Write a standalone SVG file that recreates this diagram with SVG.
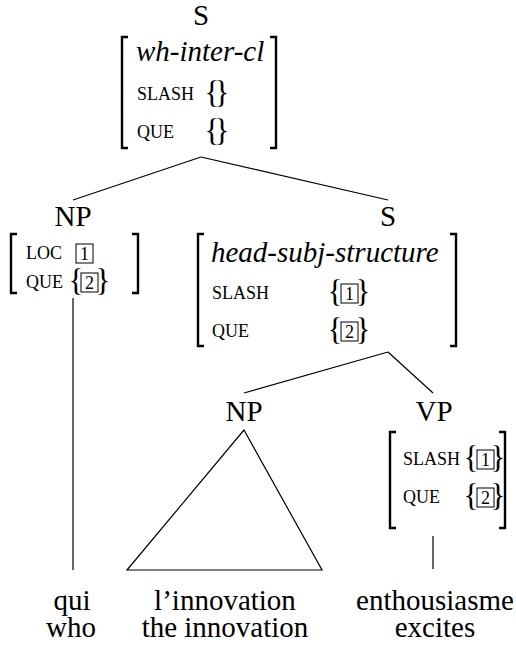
<svg xmlns="http://www.w3.org/2000/svg" width="516" height="647" viewBox="0 0 516 647">
<style>
text{font-family:"Liberation Serif","Times New Roman",serif;fill:#000}
.lab{font-size:29px;text-anchor:middle}
.it{font-size:29px;font-style:italic}
.sc{font-size:18px}
.br{font-size:31px;text-anchor:middle}
.pair{font-size:31px;letter-spacing:-5px}
.num{font-size:18px;text-anchor:middle}
.brk{fill:none;stroke:#000;stroke-width:2.4}
.box{fill:none;stroke:#000;stroke-width:1}
.edge{fill:none;stroke:#000;stroke-width:1.2}
.word{font-size:29px;text-anchor:middle}
</style>
<rect width="516" height="647" fill="#fff"/>
<g id="connectors">
<line class="edge" x1="201" y1="157" x2="73" y2="200"/>
<line class="edge" x1="201" y1="157" x2="388" y2="200"/>
<line class="edge" x1="73" y1="298" x2="73" y2="570"/>
<line class="edge" x1="388" y1="352" x2="244" y2="393"/>
<line class="edge" x1="388" y1="352" x2="433" y2="393"/>
<polygon class="edge" points="244,430 127,570 322,570"/>
<line class="edge" x1="433" y1="536" x2="433" y2="569"/>
</g>
<g id="node-S-top">
<text class="lab" x="201" y="25">S</text>
<path class="brk" d="M128,37 H122 V148 H128"/>
<path class="brk" d="M270,37 H276 V148 H270"/>
<text class="it" x="136" y="61">wh-inter-cl</text>
<text class="sc" x="137" y="100">SLASH</text>
<text class="pair" x="204.6" y="103">{}</text>
<text class="sc" x="137" y="138">QUE</text>
<text class="pair" x="204.6" y="141">{}</text>
</g>
<g id="node-NP-qui">
<text class="lab" x="73" y="226">NP</text>
<path class="brk" d="M17,234 H11 V293 H17"/>
<path class="brk" d="M132,234 H138 V293 H132"/>
<text class="sc" x="26" y="259">LOC</text>
<rect class="box" x="76" y="244" width="17" height="19"/>
<text class="num" x="84.5" y="260">1</text>
<text class="sc" x="26" y="288">QUE</text>
<text class="br" x="76" y="291">{</text>
<rect class="box" x="81" y="273" width="17" height="19"/>
<text class="num" x="89.5" y="289">2</text>
<text class="br" x="103" y="291">}</text>
</g>
<g id="node-S-right">
<text class="lab" x="388" y="226">S</text>
<path class="brk" d="M204,234 H198 V346 H204"/>
<path class="brk" d="M450,234 H456 V346 H450"/>
<text class="it" x="211" y="262">head-subj-structure</text>
<text class="sc" x="212" y="299">SLASH</text>
<text class="br" x="335" y="302">{</text>
<rect class="box" x="341" y="284" width="17" height="19"/>
<text class="num" x="349.5" y="300">1</text>
<text class="br" x="363" y="302">}</text>
<text class="sc" x="212" y="337">QUE</text>
<text class="br" x="335" y="340">{</text>
<rect class="box" x="341" y="322" width="17" height="19"/>
<text class="num" x="349.5" y="338">2</text>
<text class="br" x="363" y="340">}</text>
</g>
<g id="node-NP-inner">
<text class="lab" x="244" y="421">NP</text>
</g>
<g id="node-VP">
<text class="lab" x="434" y="421">VP</text>
<path class="brk" d="M396,432 H390 V528 H396"/>
<path class="brk" d="M499,432 H505 V528 H499"/>
<text class="sc" x="403" y="465">SLASH</text>
<text class="br" x="471" y="468">{</text>
<rect class="box" x="477" y="450" width="17" height="19"/>
<text class="num" x="485.5" y="466">1</text>
<text class="br" x="498" y="468">}</text>
<text class="sc" x="403" y="503">QUE</text>
<text class="br" x="471" y="506">{</text>
<rect class="box" x="477" y="488" width="17" height="19"/>
<text class="num" x="485.5" y="504">2</text>
<text class="br" x="498" y="506">}</text>
</g>
<g id="words">
<text class="word" x="72" y="610">qui</text>
<text class="word" x="225" y="610">l’innovation</text>
<text class="word" x="435" y="610">enthousiasme</text>
<text class="word" x="71" y="637">who</text>
<text class="word" x="225" y="637">the innovation</text>
<text class="word" x="435" y="637">excites</text>
</g>
</svg>
